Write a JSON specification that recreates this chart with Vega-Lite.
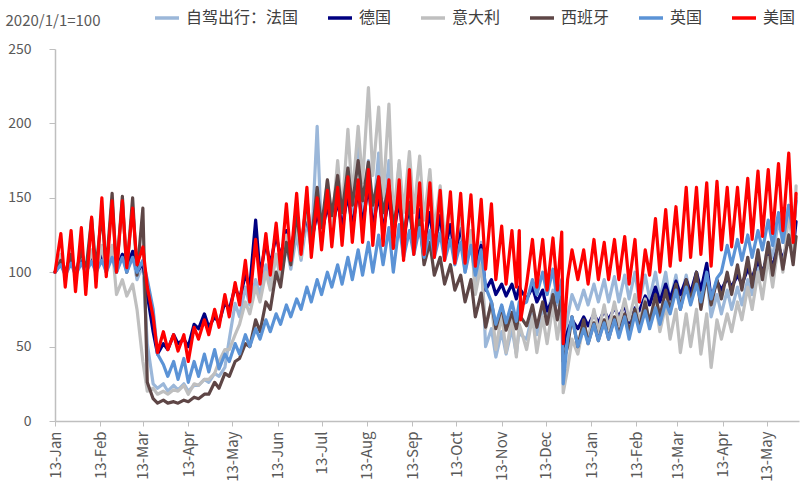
{
  "$schema": "https://vega.github.io/schema/vega-lite/v6.json",
  "width": 744,
  "height": 372,
  "autosize": {"type": "none"},
  "padding": {"left": 55, "top": 49, "right": 12, "bottom": 77},
  "background": "white",
  "config": {"view": {"stroke": null}, "font": "Noto Sans CJK SC"},
  "data": {"values": [
    {"d":"2020-01-13","fr":100,"de":100,"it":100,"es":100,"uk":100,"us":100},
    {"d":"2020-01-17","fr":108,"de":106,"it":112,"es":108,"uk":105,"us":126},
    {"d":"2020-01-20","fr":98,"de":100,"it":98,"es":100,"uk":98,"us":90},
    {"d":"2020-01-24","fr":110,"de":108,"it":114,"es":112,"uk":106,"us":128},
    {"d":"2020-01-27","fr":97,"de":100,"it":97,"es":98,"uk":98,"us":87},
    {"d":"2020-01-31","fr":110,"de":108,"it":115,"es":115,"uk":106,"us":130},
    {"d":"2020-02-03","fr":98,"de":101,"it":98,"es":100,"uk":100,"us":85},
    {"d":"2020-02-07","fr":112,"de":110,"it":115,"es":136,"uk":107,"us":137},
    {"d":"2020-02-10","fr":100,"de":102,"it":98,"es":102,"uk":100,"us":90},
    {"d":"2020-02-14","fr":115,"de":112,"it":118,"es":140,"uk":108,"us":150},
    {"d":"2020-02-17","fr":100,"de":103,"it":100,"es":102,"uk":100,"us":97},
    {"d":"2020-02-21","fr":115,"de":112,"it":118,"es":153,"uk":110,"us":148},
    {"d":"2020-02-24","fr":100,"de":102,"it":85,"es":100,"uk":100,"us":100},
    {"d":"2020-02-28","fr":112,"de":112,"it":95,"es":151,"uk":110,"us":148},
    {"d":"2020-03-02","fr":100,"de":103,"it":84,"es":100,"uk":100,"us":103},
    {"d":"2020-03-06","fr":112,"de":114,"it":92,"es":150,"uk":110,"us":143},
    {"d":"2020-03-09","fr":95,"de":100,"it":75,"es":98,"uk":100,"us":105},
    {"d":"2020-03-13","fr":105,"de":106,"it":40,"es":143,"uk":108,"us":117},
    {"d":"2020-03-16","fr":52,"de":85,"it":20,"es":26,"uk":95,"us":90},
    {"d":"2020-03-20","fr":25,"de":60,"it":22,"es":15,"uk":75,"us":70},
    {"d":"2020-03-23","fr":22,"de":45,"it":18,"es":12,"uk":45,"us":46},
    {"d":"2020-03-27","fr":25,"de":52,"it":20,"es":14,"uk":38,"us":60},
    {"d":"2020-03-30","fr":20,"de":48,"it":18,"es":12,"uk":30,"us":48},
    {"d":"2020-04-03","fr":24,"de":58,"it":21,"es":13,"uk":40,"us":58},
    {"d":"2020-04-06","fr":21,"de":52,"it":20,"es":12,"uk":28,"us":47},
    {"d":"2020-04-10","fr":25,"de":55,"it":24,"es":14,"uk":42,"us":58},
    {"d":"2020-04-13","fr":20,"de":50,"it":18,"es":13,"uk":26,"us":40},
    {"d":"2020-04-17","fr":24,"de":65,"it":25,"es":16,"uk":40,"us":63},
    {"d":"2020-04-20","fr":24,"de":62,"it":24,"es":15,"uk":30,"us":55},
    {"d":"2020-04-24","fr":28,"de":72,"it":28,"es":18,"uk":45,"us":68},
    {"d":"2020-04-27","fr":26,"de":63,"it":28,"es":18,"uk":33,"us":58},
    {"d":"2020-05-01","fr":32,"de":70,"it":32,"es":26,"uk":48,"us":75},
    {"d":"2020-05-04","fr":30,"de":66,"it":40,"es":22,"uk":35,"us":63},
    {"d":"2020-05-08","fr":36,"de":80,"it":48,"es":32,"uk":45,"us":85},
    {"d":"2020-05-11","fr":55,"de":75,"it":48,"es":30,"uk":40,"us":70},
    {"d":"2020-05-15","fr":79,"de":90,"it":58,"es":40,"uk":52,"us":93},
    {"d":"2020-05-18","fr":70,"de":82,"it":65,"es":42,"uk":45,"us":78},
    {"d":"2020-05-22","fr":90,"de":98,"it":80,"es":52,"uk":58,"us":108},
    {"d":"2020-05-25","fr":78,"de":90,"it":72,"es":50,"uk":50,"us":80},
    {"d":"2020-05-29","fr":95,"de":135,"it":90,"es":68,"uk":62,"us":122},
    {"d":"2020-06-01","fr":85,"de":98,"it":80,"es":60,"uk":55,"us":92},
    {"d":"2020-06-05","fr":105,"de":120,"it":100,"es":80,"uk":68,"us":126},
    {"d":"2020-06-08","fr":90,"de":105,"it":88,"es":75,"uk":60,"us":98},
    {"d":"2020-06-12","fr":112,"de":125,"it":112,"es":100,"uk":72,"us":133},
    {"d":"2020-06-15","fr":95,"de":110,"it":95,"es":90,"uk":65,"us":102},
    {"d":"2020-06-19","fr":118,"de":128,"it":125,"es":120,"uk":78,"us":146},
    {"d":"2020-06-22","fr":102,"de":115,"it":105,"es":105,"uk":70,"us":108},
    {"d":"2020-06-26","fr":125,"de":135,"it":135,"es":140,"uk":82,"us":153},
    {"d":"2020-06-29","fr":108,"de":118,"it":110,"es":115,"uk":75,"us":112},
    {"d":"2020-07-03","fr":135,"de":138,"it":145,"es":150,"uk":90,"us":157},
    {"d":"2020-07-06","fr":115,"de":120,"it":115,"es":120,"uk":80,"us":110},
    {"d":"2020-07-10","fr":198,"de":140,"it":155,"es":157,"uk":95,"us":150},
    {"d":"2020-07-13","fr":125,"de":125,"it":120,"es":130,"uk":85,"us":115},
    {"d":"2020-07-17","fr":155,"de":145,"it":162,"es":162,"uk":100,"us":155},
    {"d":"2020-07-20","fr":128,"de":128,"it":130,"es":138,"uk":90,"us":117},
    {"d":"2020-07-24","fr":160,"de":148,"it":175,"es":165,"uk":105,"us":157},
    {"d":"2020-07-27","fr":132,"de":130,"it":140,"es":140,"uk":92,"us":118},
    {"d":"2020-07-31","fr":170,"de":152,"it":196,"es":170,"uk":110,"us":164},
    {"d":"2020-08-03","fr":135,"de":130,"it":150,"es":145,"uk":95,"us":120},
    {"d":"2020-08-07","fr":187,"de":155,"it":198,"es":175,"uk":115,"us":162},
    {"d":"2020-08-10","fr":138,"de":132,"it":160,"es":148,"uk":98,"us":120},
    {"d":"2020-08-14","fr":175,"de":158,"it":224,"es":174,"uk":120,"us":169},
    {"d":"2020-08-17","fr":135,"de":130,"it":165,"es":145,"uk":100,"us":118},
    {"d":"2020-08-21","fr":180,"de":152,"it":211,"es":164,"uk":125,"us":164},
    {"d":"2020-08-24","fr":132,"de":128,"it":150,"es":140,"uk":105,"us":118},
    {"d":"2020-08-28","fr":175,"de":150,"it":213,"es":158,"uk":130,"us":162},
    {"d":"2020-08-31","fr":125,"de":125,"it":135,"es":132,"uk":100,"us":116},
    {"d":"2020-09-04","fr":173,"de":148,"it":175,"es":150,"uk":132,"us":162},
    {"d":"2020-09-07","fr":122,"de":122,"it":140,"es":125,"uk":110,"us":108},
    {"d":"2020-09-11","fr":150,"de":145,"it":181,"es":147,"uk":128,"us":169},
    {"d":"2020-09-14","fr":120,"de":120,"it":140,"es":115,"uk":112,"us":112},
    {"d":"2020-09-18","fr":145,"de":142,"it":178,"es":135,"uk":130,"us":160},
    {"d":"2020-09-21","fr":118,"de":120,"it":135,"es":105,"uk":110,"us":112},
    {"d":"2020-09-25","fr":140,"de":140,"it":169,"es":120,"uk":128,"us":160},
    {"d":"2020-09-28","fr":115,"de":118,"it":128,"es":98,"uk":110,"us":110},
    {"d":"2020-10-02","fr":135,"de":138,"it":158,"es":110,"uk":126,"us":155},
    {"d":"2020-10-05","fr":112,"de":115,"it":122,"es":92,"uk":108,"us":108},
    {"d":"2020-10-09","fr":132,"de":132,"it":148,"es":105,"uk":122,"us":154},
    {"d":"2020-10-12","fr":110,"de":112,"it":115,"es":88,"uk":105,"us":106},
    {"d":"2020-10-16","fr":130,"de":130,"it":140,"es":98,"uk":120,"us":153},
    {"d":"2020-10-19","fr":100,"de":110,"it":105,"es":80,"uk":100,"us":106},
    {"d":"2020-10-23","fr":125,"de":125,"it":128,"es":95,"uk":118,"us":152},
    {"d":"2020-10-26","fr":90,"de":105,"it":85,"es":70,"uk":98,"us":104},
    {"d":"2020-10-30","fr":120,"de":118,"it":105,"es":86,"uk":115,"us":149},
    {"d":"2020-11-02","fr":50,"de":88,"it":62,"es":63,"uk":90,"us":102},
    {"d":"2020-11-06","fr":62,"de":95,"it":80,"es":80,"uk":80,"us":146},
    {"d":"2020-11-09","fr":43,"de":85,"it":48,"es":62,"uk":65,"us":95},
    {"d":"2020-11-13","fr":60,"de":92,"it":72,"es":77,"uk":78,"us":131},
    {"d":"2020-11-16","fr":45,"de":84,"it":46,"es":61,"uk":66,"us":92},
    {"d":"2020-11-20","fr":62,"de":92,"it":70,"es":73,"uk":80,"us":128},
    {"d":"2020-11-23","fr":45,"de":82,"it":43,"es":62,"uk":67,"us":90},
    {"d":"2020-11-25","fr":62,"de":90,"it":65,"es":72,"uk":80,"us":128},
    {"d":"2020-11-26","fr":58,"de":88,"it":62,"es":70,"uk":78,"us":68},
    {"d":"2020-11-30","fr":55,"de":82,"it":48,"es":64,"uk":80,"us":92},
    {"d":"2020-12-04","fr":72,"de":90,"it":70,"es":78,"uk":95,"us":122},
    {"d":"2020-12-07","fr":58,"de":80,"it":46,"es":63,"uk":85,"us":90},
    {"d":"2020-12-11","fr":75,"de":88,"it":70,"es":80,"uk":100,"us":122},
    {"d":"2020-12-14","fr":70,"de":74,"it":52,"es":65,"uk":85,"us":88},
    {"d":"2020-12-18","fr":88,"de":82,"it":78,"es":85,"uk":102,"us":123},
    {"d":"2020-12-21","fr":78,"de":70,"it":55,"es":68,"uk":80,"us":88},
    {"d":"2020-12-24","fr":90,"de":78,"it":75,"es":85,"uk":95,"us":127},
    {"d":"2020-12-25","fr":35,"de":50,"it":19,"es":40,"uk":25,"us":52},
    {"d":"2020-12-28","fr":70,"de":60,"it":35,"es":50,"uk":55,"us":95},
    {"d":"2020-12-31","fr":85,"de":68,"it":55,"es":70,"uk":70,"us":115},
    {"d":"2021-01-04","fr":75,"de":62,"it":45,"es":50,"uk":50,"us":95},
    {"d":"2021-01-08","fr":88,"de":70,"it":65,"es":68,"uk":62,"us":115},
    {"d":"2021-01-11","fr":78,"de":64,"it":55,"es":52,"uk":52,"us":92},
    {"d":"2021-01-15","fr":92,"de":72,"it":75,"es":66,"uk":65,"us":122},
    {"d":"2021-01-18","fr":80,"de":66,"it":60,"es":54,"uk":54,"us":95},
    {"d":"2021-01-22","fr":95,"de":74,"it":78,"es":68,"uk":66,"us":120},
    {"d":"2021-01-25","fr":80,"de":68,"it":62,"es":55,"uk":55,"us":95},
    {"d":"2021-01-29","fr":97,"de":76,"it":80,"es":70,"uk":68,"us":122},
    {"d":"2021-02-01","fr":80,"de":70,"it":65,"es":58,"uk":56,"us":95},
    {"d":"2021-02-05","fr":98,"de":78,"it":82,"es":72,"uk":70,"us":124},
    {"d":"2021-02-08","fr":82,"de":66,"it":68,"es":60,"uk":55,"us":92},
    {"d":"2021-02-12","fr":100,"de":76,"it":85,"es":75,"uk":72,"us":122},
    {"d":"2021-02-15","fr":80,"de":74,"it":66,"es":62,"uk":60,"us":80},
    {"d":"2021-02-19","fr":98,"de":84,"it":82,"es":80,"uk":74,"us":115},
    {"d":"2021-02-22","fr":82,"de":78,"it":64,"es":66,"uk":62,"us":98},
    {"d":"2021-02-26","fr":100,"de":90,"it":80,"es":85,"uk":76,"us":136},
    {"d":"2021-03-01","fr":82,"de":80,"it":60,"es":70,"uk":65,"us":100},
    {"d":"2021-03-05","fr":100,"de":92,"it":78,"es":88,"uk":80,"us":142},
    {"d":"2021-03-08","fr":80,"de":82,"it":55,"es":74,"uk":72,"us":104},
    {"d":"2021-03-12","fr":98,"de":94,"it":75,"es":92,"uk":88,"us":144},
    {"d":"2021-03-15","fr":80,"de":85,"it":46,"es":75,"uk":75,"us":108},
    {"d":"2021-03-19","fr":98,"de":95,"it":72,"es":95,"uk":90,"us":157},
    {"d":"2021-03-22","fr":82,"de":86,"it":50,"es":80,"uk":78,"us":110},
    {"d":"2021-03-26","fr":100,"de":100,"it":75,"es":100,"uk":92,"us":157},
    {"d":"2021-03-29","fr":80,"de":88,"it":45,"es":75,"uk":80,"us":112},
    {"d":"2021-04-02","fr":98,"de":106,"it":72,"es":98,"uk":100,"us":160},
    {"d":"2021-04-05","fr":70,"de":82,"it":36,"es":78,"uk":82,"us":104},
    {"d":"2021-04-09","fr":85,"de":94,"it":68,"es":95,"uk":96,"us":161},
    {"d":"2021-04-12","fr":72,"de":88,"it":55,"es":82,"uk":100,"us":115},
    {"d":"2021-04-16","fr":88,"de":96,"it":72,"es":100,"uk":118,"us":157},
    {"d":"2021-04-19","fr":75,"de":90,"it":60,"es":85,"uk":105,"us":117},
    {"d":"2021-04-23","fr":90,"de":98,"it":80,"es":105,"uk":122,"us":157},
    {"d":"2021-04-26","fr":78,"de":92,"it":68,"es":88,"uk":108,"us":120},
    {"d":"2021-04-30","fr":95,"de":102,"it":90,"es":110,"uk":125,"us":163},
    {"d":"2021-05-03","fr":85,"de":96,"it":75,"es":90,"uk":110,"us":122},
    {"d":"2021-05-07","fr":105,"de":108,"it":100,"es":115,"uk":128,"us":168},
    {"d":"2021-05-10","fr":95,"de":100,"it":82,"es":95,"uk":115,"us":124},
    {"d":"2021-05-14","fr":120,"de":112,"it":110,"es":120,"uk":135,"us":169},
    {"d":"2021-05-17","fr":110,"de":104,"it":90,"es":98,"uk":118,"us":126},
    {"d":"2021-05-21","fr":135,"de":118,"it":120,"es":122,"uk":140,"us":173},
    {"d":"2021-05-24","fr":120,"de":108,"it":100,"es":102,"uk":120,"us":128},
    {"d":"2021-05-28","fr":145,"de":125,"it":140,"es":125,"uk":145,"us":180},
    {"d":"2021-05-31","fr":125,"de":115,"it":115,"es":105,"uk":125,"us":120},
    {"d":"2021-06-02","fr":150,"de":134,"it":158,"es":124,"uk":148,"us":153}
  ]},
  "transform": [{"fold": ["fr", "de", "it", "es", "uk", "us"], "as": ["s", "v"]}],
  "mark": {"type": "line", "strokeWidth": 3.2, "strokeJoin": "round", "strokeCap": "round"},
  "encoding": {
    "x": {
      "field": "d",
      "type": "temporal",
      "scale": {
        "type": "utc",
        "domain": [{"year": 2020, "month": 1, "date": 13, "utc": true}, {"year": 2021, "month": 6, "date": 4, "utc": true}]
      },
      "axis": {
        "values": [
          {"year": 2020, "month": 1, "date": 13, "utc": true},
          {"year": 2020, "month": 2, "date": 13, "utc": true},
          {"year": 2020, "month": 3, "date": 13, "utc": true},
          {"year": 2020, "month": 4, "date": 13, "utc": true},
          {"year": 2020, "month": 5, "date": 13, "utc": true},
          {"year": 2020, "month": 6, "date": 13, "utc": true},
          {"year": 2020, "month": 7, "date": 13, "utc": true},
          {"year": 2020, "month": 8, "date": 13, "utc": true},
          {"year": 2020, "month": 9, "date": 13, "utc": true},
          {"year": 2020, "month": 10, "date": 13, "utc": true},
          {"year": 2020, "month": 11, "date": 13, "utc": true},
          {"year": 2020, "month": 12, "date": 13, "utc": true},
          {"year": 2021, "month": 1, "date": 13, "utc": true},
          {"year": 2021, "month": 2, "date": 13, "utc": true},
          {"year": 2021, "month": 3, "date": 13, "utc": true},
          {"year": 2021, "month": 4, "date": 13, "utc": true},
          {"year": 2021, "month": 5, "date": 13, "utc": true}
        ],
        "labelExpr": "utcFormat(datum.value, '%d-%b')",
        "labelAngle": 270,
        "labelAlign": "right",
        "labelBaseline": "middle",
        "labelFontSize": 15,
        "labelColor": "#595959",
        "labelPadding": 5,
        "labelOverlap": false,
        "labelBound": false,
        "labelFlush": false,
        "tickSize": 5,
        "tickColor": "#BFBFBF",
        "domainColor": "#BFBFBF",
        "domainWidth": 1.5,
        "grid": false,
        "title": null
      }
    },
    "y": {
      "field": "v",
      "type": "quantitative",
      "scale": {"domain": [0, 250], "nice": false, "zero": true},
      "axis": {
        "values": [0, 50, 100, 150, 200, 250],
        "labelFontSize": 14,
        "labelColor": "#595959",
        "labelPadding": 18,
        "tickSize": 6,
        "tickColor": "#BFBFBF",
        "domainColor": "#BFBFBF",
        "domainWidth": 1.5,
        "grid": false,
        "title": "2020/1/1=100",
        "titleAngle": 0,
        "titleX": -50,
        "titleY": -29,
        "titleAlign": "left",
        "titleBaseline": "middle",
        "titleFontSize": 15,
        "titleFontWeight": "normal",
        "titleColor": "#595959"
      }
    },
    "color": {
      "field": "s",
      "type": "nominal",
      "scale": {
        "domain": ["fr", "de", "it", "es", "uk", "us"],
        "range": ["#9BB7D9", "#000080", "#BFBFBF", "#5E4646", "#5B93D6", "#FF0000"]
      },
      "legend": {
        "orient": "none",
        "legendX": 98,
        "legendY": -45,
        "direction": "horizontal",
        "title": null,
        "symbolType": "stroke",
        "symbolSize": 576,
        "symbolStrokeWidth": 3.5,
        "labelFontSize": 16,
        "labelColor": "#404040",
        "labelOffset": 5,
        "columnPadding": 22,
        "padding": 0,
        "labelExpr": "{'fr':'自驾出行：法国','de':'德国','it':'意大利','es':'西班牙','uk':'英国','us':'美国'}[datum.label]"
      }
    }
  }
}
